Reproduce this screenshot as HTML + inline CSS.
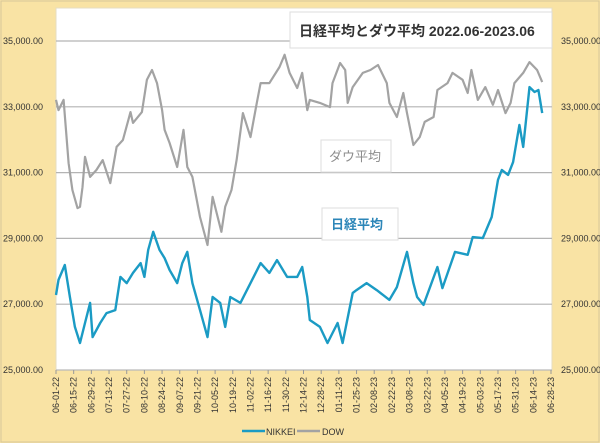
<!DOCTYPE html>
<html><head><meta charset="utf-8"><style>
html,body{margin:0;padding:0;background:#fff}
#wrap{position:relative;width:600px;height:443px;overflow:hidden}
svg text{font-family:"Liberation Sans","Noto Sans CJK JP",sans-serif}
</style></head><body>
<div id="wrap">
<svg id="chart" width="600" height="443" xmlns="http://www.w3.org/2000/svg">
<rect x="0" y="0" width="600" height="443" fill="#f9e3a4"/>
<rect x="1" y="1" width="598" height="441" fill="none" stroke="#d8c79a"/>
<rect x="56" y="8" width="496" height="362" fill="#ffffff" stroke="#e6dcc0"/>
<g id="grid"></g>
<g id="yleft"></g>
<g id="yright"></g>
<g id="xaxis"></g>
<g id="series"></g>
<g>
<rect x="290" y="12" width="262" height="36" fill="#fff" stroke="#ddd"/>
<text x="299" y="36" font-size="14" font-weight="bold" fill="#333">日経平均とダウ平均 2022.06-2023.06</text>
</g>
<g>
<rect x="321" y="140" width="70" height="32" fill="#fff" stroke="#ddd"/>
<text x="329" y="161" font-size="13" fill="#8c8c8c">ダウ平均</text>
</g>
<g>
<rect x="322" y="208" width="76" height="32" fill="#fff" stroke="#ddd"/>
<text x="331" y="229" font-size="13" font-weight="bold" fill="#2c86b8">日経平均</text>
</g>
<g>
<line x1="242" y1="431" x2="265" y2="431" stroke="#1b9bc4" stroke-width="2.5"/>
<text x="266" y="435" font-size="9" fill="#333">NIKKEI</text>
<line x1="297" y1="431" x2="320" y2="431" stroke="#a3a3a3" stroke-width="2.5"/>
<text x="322" y="435" font-size="9" fill="#333">DOW</text>
</g>
</svg>
</div>
<script>
const tickValues=[25000,27000,29000,31000,33000,35000];
const tickLabels=["25,000.00","27,000.00","29,000.00","31,000.00","33,000.00","35,000.00"];
const dateLabels=["06-01-22","06-15-22","06-29-22","07-13-22","07-27-22","08-10-22","08-24-22","09-07-22","09-21-22","10-05-22","10-19-22","11-02-22","11-16-22","11-30-22","12-14-22","12-28-22","01-11-23","01-25-23","02-08-23","02-22-23","03-08-23","03-22-23","04-05-23","04-19-23","05-03-23","05-17-23","05-31-23","06-14-23","06-28-23"];
const nikkeiDays=[0,2,7,11,15,19,23,27,29,35,40,47,51,56,61,67,70,73,77,82,86,90,96,100,104,108,114,120,124,130,134,138,146,154,162,169,175,183,191,195,199,201,209,215,223,227,235,238,246,254,264,270,278,283,286,291,302,306,316,326,330,338,345,350,353,358,362,367,370,375,379,382,385];
const nikkeiValues=[27280,27740,28190,27220,26310,25820,26430,27040,26000,26430,26730,26820,27830,27640,27950,28250,27830,28650,29200,28650,28400,28040,27640,28250,28590,27640,26820,26000,27220,27040,26310,27220,27040,27640,28250,27950,28340,27830,27830,28130,27220,26520,26310,25820,26430,25820,27340,27430,27640,27430,27130,27520,28590,27640,27220,26980,28130,27490,28590,28500,29040,29010,29650,30780,31080,30930,31320,32450,31780,33600,33450,33510,32810];
const dowDays=[0,2,6,10,13,17,19,21,23,27,32,37,43,48,53,59,61,68,72,76,80,84,86,90,96,101,104,108,114,120,124,131,134,139,143,148,154,159,162,169,177,181,185,191,195,199,201,209,217,219,225,229,231,235,243,249,255,262,264,270,275,278,283,288,292,299,302,310,314,322,326,329,334,340,346,350,356,360,363,370,375,381,385];
const dowValues=[33210,32900,33210,31290,30470,29920,29960,30560,31480,30870,31080,31380,30680,31780,31990,32840,32510,32840,33820,34120,33720,32900,32300,31900,31170,32300,31170,30870,29650,28800,30260,29200,29960,30470,31380,32810,32080,33120,33720,33720,34210,34580,34030,33570,34030,32900,33210,33120,32990,33720,34330,34120,33120,33600,34030,34120,34270,33720,33120,32690,33420,32810,31840,32080,32540,32690,33510,33720,34030,33820,33420,34120,33210,33600,33060,33510,32810,33120,33720,34030,34360,34120,33750];

const NS="http://www.w3.org/2000/svg";
const X0=56,X1=551,TOTALDAYS=392,Y0=370,Y1=41,VMIN=25000,VMAX=35000;
function xScale(d){return X0+d*(X1-X0)/TOTALDAYS;}
function yScale(v){return Y0-(v-VMIN)*(Y0-Y1)/(VMAX-VMIN);}
function mk(tag,attrs,parent){const e=document.createElementNS(NS,tag);for(const k in attrs)e.setAttribute(k,attrs[k]);parent.appendChild(e);return e;}

const grid=document.getElementById('grid'),yl=document.getElementById('yleft'),yr=document.getElementById('yright');
tickValues.forEach((v,i)=>{
  const y=yScale(v);
  const g=mk('line',{x1:56,x2:552,y1:y,y2:y,stroke:'#b4b4b4','stroke-width':1.2},grid);
  
  
  const t=mk('text',{x:3,y:y+3,'font-size':9,fill:'#333'},yl);t.textContent=tickLabels[i];
  
  
  const t2=mk('text',{x:561,y:y+3,'font-size':9,fill:'#333'},yr);t2.textContent=tickLabels[i];
  
  
});
const xa=document.getElementById('xaxis');
const ax=mk('line',{x1:56,x2:552,y1:370,y2:370,stroke:'#bbb'},xa);


dateLabels.forEach((d,i)=>{
  const x=xScale(i*14);
  const tk=mk('line',{x1:x,x2:x,y1:370,y2:374,stroke:'#999'},xa);
  
  
  const t=mk('text',{x:0,y:0,'font-size':9,fill:'#333','text-anchor':'end',transform:`translate(${x+3},${377}) rotate(-90)`},xa);
  t.textContent=d;
  
  
});
const s=document.getElementById('series');
function path(days,vals){return days.map((d,i)=>(i?'L':'M')+xScale(d).toFixed(1)+','+yScale(vals[i]).toFixed(1)).join(' ');}
const pd=mk('path',{d:path(dowDays,dowValues),fill:'none',stroke:'#a3a3a3','stroke-width':2.2,'stroke-linejoin':'round'},s);


const pn=mk('path',{d:path(nikkeiDays,nikkeiValues),fill:'none',stroke:'#1b9bc4','stroke-width':2.4,'stroke-linejoin':'round'},s);


</script>
</body></html>
